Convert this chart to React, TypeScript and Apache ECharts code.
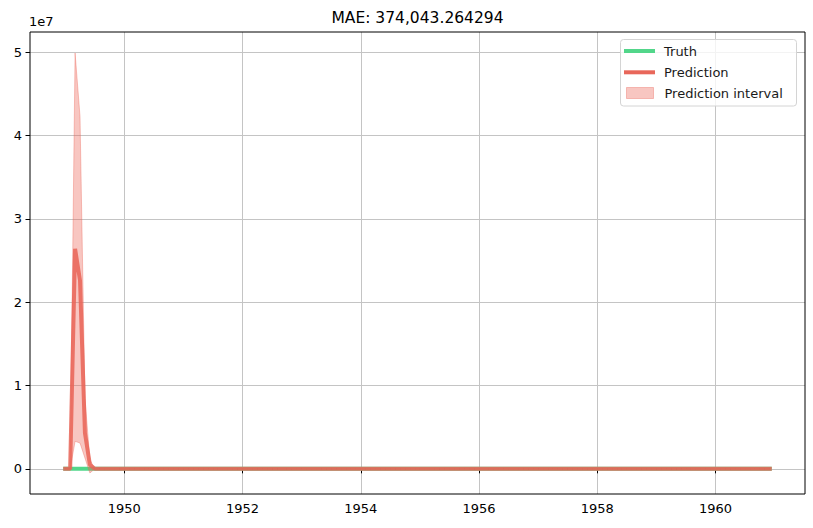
import React, { useEffect, useRef } from "react";
import * as echarts from "echarts";

// Monthly observations, Jan 1949 .. Dec 1960
const startYear = 1949;
const endYear = 1960;

const truth = [
  112, 118, 132, 129, 121, 135, 148, 148, 136, 119, 104, 118,
  115, 126, 141, 135, 125, 149, 170, 170, 158, 133, 114, 140,
  145, 150, 178, 163, 172, 178, 199, 199, 184, 162, 146, 166,
  171, 180, 193, 181, 183, 218, 230, 242, 209, 191, 172, 194,
  196, 196, 236, 235, 229, 243, 264, 272, 237, 211, 180, 201,
  204, 188, 235, 227, 234, 264, 302, 293, 259, 229, 203, 229,
  242, 233, 267, 269, 270, 315, 364, 347, 312, 274, 237, 278,
  284, 277, 317, 313, 318, 374, 413, 405, 355, 306, 271, 306,
  315, 301, 356, 348, 355, 422, 465, 467, 404, 347, 305, 336,
  340, 318, 362, 348, 363, 435, 491, 505, 404, 359, 310, 337,
  360, 342, 406, 396, 420, 472, 548, 559, 463, 407, 362, 405,
  417, 391, 419, 461, 472, 535, 622, 606, 508, 461, 390, 432,
];

const prediction = [
  110, 120, 26400000, 22600000, 4300000, 500000, 160, 150, 140, 125, 110, 120,
  118, 124, 138, 137, 128, 146, 165, 168, 155, 135, 118, 136,
  142, 152, 172, 166, 168, 181, 196, 201, 186, 164, 148, 163,
  170, 178, 195, 184, 186, 212, 232, 238, 212, 193, 175, 190,
  198, 199, 230, 232, 231, 240, 262, 268, 240, 214, 184, 200,
  206, 192, 230, 229, 232, 262, 298, 295, 262, 231, 206, 226,
  240, 236, 264, 268, 272, 310, 358, 350, 315, 276, 240, 272,
  282, 280, 314, 314, 320, 368, 410, 406, 358, 310, 274, 302,
  314, 304, 352, 350, 356, 415, 460, 465, 408, 350, 308, 332,
  338, 322, 360, 352, 362, 430, 486, 500, 410, 362, 314, 336,
  358, 346, 400, 398, 416, 468, 540, 555, 466, 410, 366, 400,
  414, 394, 420, 456, 470, 528, 615, 604, 512, 462, 394, 428,
];

const lowerBound = [
  90, 95, 3300000, 3100000, 1300000, -500000, 120, 118, 105, 92, 80, 88,
  86, 96, 108, 104, 96, 114, 132, 134, 120, 102, 86, 104,
  108, 116, 136, 126, 132, 142, 158, 160, 146, 126, 110, 126,
  132, 140, 152, 144, 146, 172, 188, 192, 166, 150, 132, 148,
  152, 154, 184, 186, 184, 192, 210, 216, 188, 164, 138, 154,
  156, 142, 180, 178, 182, 208, 240, 236, 206, 180, 156, 174,
  186, 182, 208, 210, 214, 246, 290, 282, 250, 216, 186, 214,
  222, 218, 248, 248, 254, 296, 330, 326, 284, 244, 212, 238,
  248, 238, 280, 278, 282, 336, 374, 378, 326, 278, 240, 262,
  268, 252, 286, 278, 288, 346, 396, 408, 326, 288, 246, 266,
  284, 272, 320, 316, 332, 378, 440, 452, 374, 328, 290, 320,
  330, 312, 334, 366, 378, 426, 500, 490, 410, 368, 312, 340,
];

const upperBound = [
  135, 145, 49900000, 42300000, 8500000, 1100000, 200, 186, 175, 158, 140, 152,
  150, 152, 168, 170, 160, 178, 198, 202, 190, 168, 150, 168,
  176, 188, 208, 206, 204, 220, 234, 242, 226, 202, 186, 200,
  208, 216, 238, 224, 226, 252, 276, 284, 258, 236, 218, 232,
  244, 244, 276, 278, 278, 288, 314, 320, 292, 264, 230, 246,
  256, 242, 280, 280, 282, 316, 356, 354, 318, 282, 256, 278,
  294, 290, 320, 326, 330, 374, 426, 418, 380, 336, 294, 330,
  342, 342, 380, 380, 386, 440, 490, 486, 432, 376, 336, 366,
  380, 370, 424, 422, 430, 494, 546, 552, 490, 422, 376, 402,
  408, 392, 434, 426, 436, 514, 576, 592, 494, 436, 382, 406,
  432, 420, 480, 480, 500, 558, 640, 658, 558, 492, 442, 480,
  498, 476, 506, 546, 562, 630, 730, 718, 614, 556, 476, 516,
];

const xTicks = [1950, 1952, 1954, 1956, 1958, 1960];
const yTicks = [0, 1e7, 2e7, 3e7, 4e7, 5e7];
const titleText = "MAE: 374,043.264294";

export default function App() {
  const ref = useRef<HTMLDivElement>(null);

  useEffect(() => {
    if (!ref.current) return;
    const chart = echarts.init(ref.current, undefined, { renderer: "svg" });

    const xs: number[] = [];
    for (let y = startYear; y <= endYear; y++) {
      for (let m = 0; m < 12; m++) xs.push(y + m / 12);
    }
    const truthData = truth.map((v, i) => [xs[i], v]);
    const predData = prediction.map((v, i) => [xs[i], v]);
    const bandData = xs.map((x, i) => [x, lowerBound[i], upperBound[i]]);

    const allVals = [...truth, ...prediction, ...lowerBound, ...upperBound];
    const yMinD = Math.min(...allVals);
    const yMaxD = Math.max(...allVals);
    const yPad = (yMaxD - yMinD) * 0.05;
    const xPad = (xs[xs.length - 1] - xs[0]) * 0.05;

    const font = "DejaVu Sans";
    const green = "#52d68a";
    const red = "#e8675a";
    const fill = "rgba(236,98,84,0.36)";
    const edge = "rgba(236,98,84,0.36)";

    chart.setOption({
      animation: false,
      grid: {
        left: 30,
        top: 32,
        right: 8,
        bottom: 34,
        show: true,
        borderColor: "#000",
        borderWidth: 1,
        backgroundColor: "transparent",
        z: 3,
      },
      xAxis: {
        type: "value",
        min: xs[0] - xPad,
        max: xs[xs.length - 1] + xPad,
        axisLine: { show: false },
        axisTick: {
          show: true,
          length: 4.5,
          lineStyle: { color: "#000", width: 1 },
          customValues: xTicks,
        },
        axisLabel: {
          customValues: xTicks,
          margin: 8,
          fontFamily: font,
          fontSize: 13,
          color: "#000",
          formatter: (v: number) => String(v),
        },
        splitLine: { show: true, lineStyle: { color: "#c4c4c4", width: 1 } },
      },
      yAxis: {
        type: "value",
        min: yMinD - yPad,
        max: yMaxD + yPad,
        axisLine: { show: false },
        axisTick: {
          show: true,
          length: 4.5,
          lineStyle: { color: "#000", width: 1 },
          customValues: yTicks,
        },
        axisLabel: {
          customValues: yTicks,
          margin: 8,
          fontFamily: font,
          fontSize: 13,
          color: "#000",
          formatter: (v: number) => String(Math.round(v / 1e7)),
        },
        splitLine: { show: true, lineStyle: { color: "#c4c4c4", width: 1 } },
      },
      legend: [
        {
          orient: "vertical",
          left: 619,
          top: 38,
          itemWidth: 31,
          itemHeight: 4,
          itemGap: 5.3,
          z: 20,
          textStyle: { fontFamily: font, fontSize: 13, color: "#1a1a1a", lineHeight: 16, padding: [0, 0, 0, 4] },
          data: [
            { name: "Truth", icon: "rect", itemStyle: { color: green } },
            { name: "Prediction", icon: "rect", itemStyle: { color: red } },
          ],
        },
        {
          orient: "vertical",
          left: 621,
          top: 80,
          itemWidth: 27,
          itemHeight: 11,
          z: 20,
          textStyle: { fontFamily: font, fontSize: 13, color: "#1a1a1a", lineHeight: 16, padding: [0, 0, 0, 6] },
          data: [
            {
              name: "Prediction interval",
              icon: "rect",
              itemStyle: { color: fill, borderColor: edge, borderWidth: 1 },
            },
          ],
        },
      ],
      graphic: [
        {
          type: "text",
          z: 10,
          x: 417.5,
          y: 18,
          style: {
            text: titleText,
            fontFamily: font,
            fontSize: 15.5,
            fill: "#000",
            textAlign: "center",
            textVerticalAlign: "middle",
          },
        },
        {
          type: "text",
          z: 10,
          x: 29,
          y: 28,
          style: {
            text: "1e7",
            fontFamily: font,
            fontSize: 13,
            fill: "#000",
            textAlign: "left",
            textVerticalAlign: "bottom",
          },
        },
        {
          type: "rect",
          z: 15,
          shape: { x: 620.5, y: 39.5, width: 176, height: 66.5, r: 3 },
          style: { fill: "rgba(255,255,255,0.8)", stroke: "#d4d4d4", lineWidth: 1 },
        },
      ],
      series: [
        {
          name: "Truth",
          type: "line",
          data: truthData,
          symbol: "none",
          lineStyle: { color: green, width: 4, cap: "square" },
          itemStyle: { color: green },
          z: 4,
        },
        {
          name: "Prediction",
          type: "line",
          data: predData,
          symbol: "none",
          lineStyle: { color: red, width: 4, opacity: 0.86, cap: "square" },
          itemStyle: { color: red },
          z: 5,
        },
        {
          name: "Prediction interval",
          type: "custom",
          data: bandData,
          encode: { x: 0, y: [1, 2] },
          itemStyle: { color: fill },
          z: 6,
          renderItem: (params: any, api: any) => {
            if (params.dataIndex !== 0) return null;
            const upperPts = bandData.map((d) => api.coord([d[0], d[2]]));
            const lowerPts = bandData.map((d) => api.coord([d[0], d[1]])).reverse();
            return {
              type: "polygon",
              shape: { points: [...upperPts, ...lowerPts] },
              style: { fill: fill, stroke: edge, lineWidth: 1 },
              silent: true,
            };
          },
        },
      ],
    });

    return () => chart.dispose();
  }, []);

  return (
    <div
      ref={ref}
      style={{ position: "fixed", left: 0, top: 0, width: 813, height: 528, background: "#fff" }}
    />
  );
}
